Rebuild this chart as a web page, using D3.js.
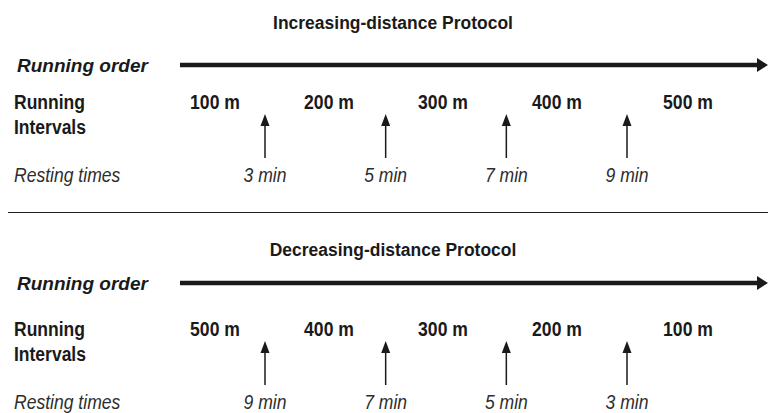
<!DOCTYPE html>
<html lang="en">
<head>
  <meta charset="UTF-8" />
  <title>Running protocols</title>
  <style>
    body { margin: 0; background: #fff; }
    svg { display: block; font-family: "Liberation Sans", Arial, sans-serif; }
    .title { font-size: 19px; font-weight: bold; fill: #1a1a1a; }
    .order { font-size: 19px; font-weight: bold; font-style: italic; fill: #1a1a1a; }
    .lab, .dist { font-size: 20px; font-weight: bold; fill: #1a1a1a; }
    .rest { font-size: 19.5px; font-style: italic; fill: #2e2e2e; }
  </style>
</head>
<body>
<svg id="chart"></svg>
<script src="https://d3js.org/d3.v7.min.js"></script>
<script>
  const width = 768, height = 413;

  // data
  const titles = ["Increasing-distance Protocol", "Decreasing-distance Protocol"];
  const distances = [
    ["100 m", "200 m", "300 m", "400 m", "500 m"],
    ["500 m", "400 m", "300 m", "200 m", "100 m"]
  ];
  const restTimes = [
    ["3 min", "5 min", "7 min", "9 min"],
    ["9 min", "7 min", "5 min", "3 min"]
  ];

  const svg = d3.select("#chart").attr("width", width).attr("height", height);

  // horizontal positions: interval slots and rest slots
  const x = d3.scaleLinear().domain([0, 3, 4]).range([215, 557, 688]);
  const xr = d3.scaleLinear().domain([0, 3]).range([265, 627]);
  // panel offsets and the running-order row inside each panel
  const panelY = d3.scaleOrdinal().domain([0, 1]).range([0, 227]);
  const orderY = d3.scaleOrdinal().domain([0, 1]).range([65, 56]);

  // text drawn with a horizontal squeeze to mimic a condensed face
  function label(g, cls, tx, ty, sx, str, anchor) {
    return g.append("text")
      .attr("class", cls)
      .attr("transform", `translate(${tx},${ty}) scale(${sx},1)`)
      .attr("text-anchor", anchor || "start")
      .text(str);
  }

  titles.forEach((t, p) => {
    const g = svg.append("g").attr("transform", `translate(0,${panelY(p)})`);
    const oy = orderY(p);

    label(g, "title", 393, 29, 0.92, t, "middle");
    label(g, "order", 17, oy + 6.5, 1.0, "Running order");

    // running order arrow
    g.append("line")
      .attr("x1", 180).attr("x2", 760)
      .attr("y1", oy).attr("y2", oy)
      .attr("stroke", "#1a1a1a").attr("stroke-width", 4.5);
    g.append("path")
      .attr("d", `M757,${oy - 7}L768,${oy}L757,${oy + 7}Z`)
      .attr("fill", "#1a1a1a");

    label(g, "lab", 14, 108.5, 0.875, "Running");
    label(g, "lab", 14, 133.5, 0.875, "Intervals");
    label(g, "rest", 14, 182, 0.9, "Resting times");

    distances[p].forEach((d, i) => label(g, "dist", x(i), 108.5, 0.88, d, "middle"));

    const arrows = g.selectAll(".rarrow")
      .data(restTimes[p])
      .join("g")
      .attr("class", "rarrow")
      .attr("transform", (d, i) => `translate(${xr(i)},0)`);

    arrows.append("line")
      .attr("x1", 0).attr("x2", 0)
      .attr("y1", 123).attr("y2", 158)
      .attr("stroke", "#1a1a1a").attr("stroke-width", 1.5);
    arrows.append("path")
      .attr("d", "M-4.5,126L0,114L4.5,126Z")
      .attr("fill", "#1a1a1a");
    arrows.each(function(d) {
      label(d3.select(this), "rest", 0, 182, 0.9, d, "middle");
    });
  });

  // separator between the two protocols
  svg.append("line")
    .attr("x1", 8).attr("x2", 768)
    .attr("y1", 212.5).attr("y2", 212.5)
    .attr("stroke", "#222").attr("stroke-width", 1.2);
</script>
</body>
</html>
